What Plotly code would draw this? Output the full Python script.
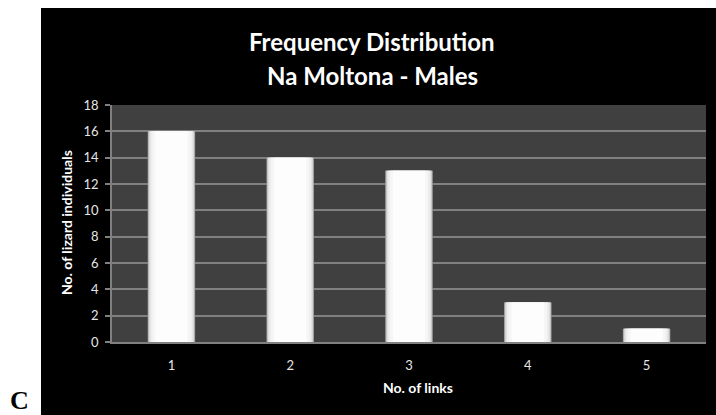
import plotly.graph_objects as go

# Number of links per male lizard and how many individuals had each count
links = [1, 2, 3, 4, 5]
individuals = [16, 14, 13, 3, 1]

y_ticks = list(range(0, 19, 2))

title_lines = ["Frequency Distribution", "Na Moltona - Males"]
x_title = "No. of links"
y_title = "No. of lizard individuals"
panel_letter = "C"

W, H = 716, 415
L, R, T, B = 112, 10, 105, 73
PW, PH = W - L - R, H - T - B


def px_x(X):
    return (X - L) / PW


def px_y(Y):
    return (H - B - Y) / PH


fig = go.Figure()

# Layered bars of shrinking width give each column a soft, rounded shading
shades = [
    (0.40, "#8f8f8f"),
    (0.392, "#b4b4b4"),
    (0.382, "#d0d0d0"),
    (0.37, "#e2e2e2"),
    (0.35, "#eeeeee"),
    (0.32, "#f6f6f6"),
    (0.27, "#fdfdfd"),
]
for w, c in shades:
    fig.add_trace(go.Bar(
        x=links, y=individuals, width=w,
        marker=dict(color=c, line=dict(width=0)),
        hoverinfo="skip", showlegend=False,
    ))

fig.update_layout(
    width=W, height=H,
    margin=dict(l=L, r=R, t=T, b=B, pad=0),
    paper_bgcolor="#000000",
    plot_bgcolor="#404040",
    barmode="overlay",
    showlegend=False,
    font=dict(family="Lato, 'Open Sans', sans-serif", color="#e6e6e6", size=12),
    xaxis=dict(
        range=[0.5, 5.5],
        tickmode="array", tickvals=links, ticktext=[str(v) for v in links],
        showgrid=False, zeroline=False,
        showline=True, linecolor="#808080", linewidth=1.5,
        ticks="", tickfont=dict(size=13, color="#e6e6e6"),
        ticklabelstandoff=11,
    ),
    yaxis=dict(
        range=[0, 18],
        tickmode="array", tickvals=y_ticks,
        showgrid=True, gridcolor="#808080", gridwidth=1.5,
        zeroline=False,
        showline=True, linecolor="#808080", linewidth=1.5,
        ticks="outside", ticklen=5, tickcolor="#808080", tickwidth=1.5,
        tickfont=dict(size=13, color="#e6e6e6"),
        ticklabelstandoff=4,
    ),
)

shapes = [
    # white page margin to the left of and above the black chart area
    dict(type="rect", xref="paper", yref="paper",
         x0=px_x(0), x1=px_x(41), y0=px_y(H), y1=px_y(0),
         fillcolor="#ffffff", line=dict(width=0), layer="below"),
    dict(type="rect", xref="paper", yref="paper",
         x0=px_x(0), x1=px_x(W), y0=px_y(8), y1=px_y(0),
         fillcolor="#ffffff", line=dict(width=0), layer="below"),
]
fig.update_layout(shapes=shapes)

annotations = [
    dict(text=f"<b>{title_lines[0]}</b>", x=px_x(372), y=px_y(42),
         font=dict(size=24, color="#ffffff")),
    dict(text=f"<b>{title_lines[1]}</b>", x=px_x(372), y=px_y(75),
         font=dict(size=24, color="#ffffff")),
    dict(text=f"<b>{x_title}</b>", x=px_x(418), y=px_y(387),
         font=dict(size=14, color="#ffffff")),
    dict(text=f"<b>{y_title}</b>", x=px_x(66), y=px_y(223), textangle=-90,
         font=dict(size=14, color="#ffffff")),
    dict(text=f"<b>{panel_letter}</b>", x=px_x(19), y=px_y(400),
         font=dict(size=26, color="#000000",
                   family="'Liberation Serif', 'DejaVu Serif', serif")),
]
for a in annotations:
    a.update(xref="paper", yref="paper", showarrow=False,
             xanchor="center", yanchor="middle")
fig.update_layout(annotations=annotations)

fig.write_html("out.html")
